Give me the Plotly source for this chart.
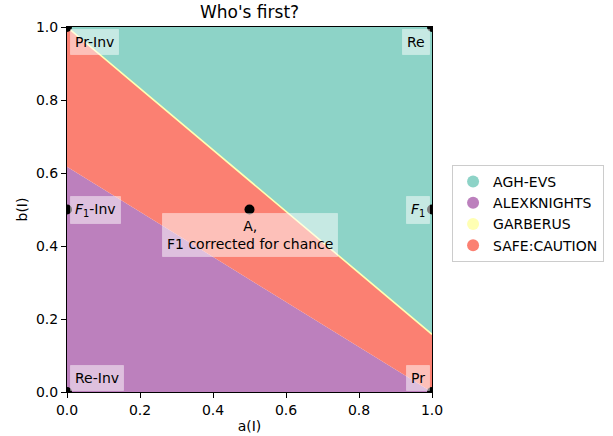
import plotly.graph_objects as go

# Data
a_edges = [0.0, 1.0]
alexknights_top = [0.617, 0.0]     # boundary purple / red
garberus_line = [1.0, 0.158]       # boundary red / green (thin yellow band)
point_x = [0.0, 1.0, 0.0, 0.5, 1.0, 0.0, 1.0]
point_y = [1.0, 1.0, 0.5, 0.5, 0.5, 0.0, 0.0]
labels = ["Pr-Inv", "Re", "<i>F</i><sub>1</sub>-Inv", "A,<br>F1 corrected for chance",
          "<i>F</i><sub>1</sub>", "Re-Inv", "Pr"]
teams = ["AGH-EVS", "ALEXKNIGHTS", "GARBERUS", "SAFE:CAUTION"]
colors = {"AGH-EVS": "#8dd3c7", "ALEXKNIGHTS": "#bc80bd",
          "GARBERUS": "#ffffb3", "SAFE:CAUTION": "#fb8072"}

FONT = "DejaVu Sans"
FS = 14
fig = go.Figure()

# purple region
fig.add_trace(go.Scatter(
    x=[a_edges[0], a_edges[0], a_edges[1]], y=[0, alexknights_top[0], alexknights_top[1]],
    fill="toself", mode="none", fillcolor=colors["ALEXKNIGHTS"], showlegend=False, hoverinfo="skip"))
# red region
fig.add_trace(go.Scatter(
    x=[a_edges[0], a_edges[1], a_edges[1], a_edges[0]],
    y=[alexknights_top[0], alexknights_top[1], garberus_line[1], garberus_line[0]],
    fill="toself", mode="none", fillcolor=colors["SAFE:CAUTION"], showlegend=False, hoverinfo="skip"))
# green region
fig.add_trace(go.Scatter(
    x=[a_edges[0], a_edges[1], a_edges[1]], y=[garberus_line[0], garberus_line[1], 1.0],
    fill="toself", mode="none", fillcolor=colors["AGH-EVS"], showlegend=False, hoverinfo="skip"))
# yellow thin band
fig.add_trace(go.Scatter(
    x=a_edges, y=garberus_line, mode="lines",
    line=dict(color=colors["GARBERUS"], width=1.6), showlegend=False, hoverinfo="skip"))

# points
fig.add_trace(go.Scatter(
    x=point_x, y=point_y, mode="markers",
    marker=dict(color="black", size=10), showlegend=False, cliponaxis=True))

# legend entries
for t in teams:
    fig.add_trace(go.Scatter(
        x=[None], y=[None], mode="markers", name=t,
        marker=dict(color=colors[t], size=14)))

# annotations
anchors = [
    ("left", "top", 3, -2),
    ("right", "top", -2, -2),
    ("left", "middle", 3, 0),
    ("center", "top", 0, -3),
    ("right", "middle", -2, 0),
    ("left", "bottom", 3, 1),
    ("right", "bottom", -2, 1),
]
for x, y, lab, (xa, ya, xs, ys) in zip(point_x, point_y, labels, anchors):
    fig.add_annotation(
        x=x, y=y, text=lab, showarrow=False, xanchor=xa, yanchor=ya,
        xshift=xs, yshift=ys, align="center",
        font=dict(family=FONT, size=FS, color="black"),
        bgcolor="rgba(255,255,255,0.5)", borderpad=4,
        bordercolor="rgba(255,255,255,0.3)", borderwidth=1)

axis_common = dict(
    range=[0, 1], tickmode="array", tickvals=[0, 0.2, 0.4, 0.6, 0.8, 1.0],
    ticktext=["0.0", "0.2", "0.4", "0.6", "0.8", "1.0"],
    ticks="outside", ticklen=5, tickwidth=1, tickcolor="black",
    showline=True, linecolor="black", linewidth=1, mirror=True,
    showgrid=False, zeroline=False, automargin=False,
    tickfont=dict(family=FONT, size=FS, color="black"),
)
fig.update_xaxes(title=dict(text="a(I)", font=dict(family=FONT, size=FS, color="black"), standoff=4),
                 **axis_common)
fig.update_yaxes(title=dict(text="b(I)", font=dict(family=FONT, size=FS, color="black"), standoff=5),
                 **axis_common)

fig.update_layout(
    width=613, height=436,
    margin=dict(l=67, r=181, t=27, b=44, autoexpand=False),
    plot_bgcolor="white", paper_bgcolor="white",
    title=dict(text="Who's first?", x=(67 + 432) / 2 / 613, xanchor="center",
               y=1 - 12 / 436, yanchor="middle", automargin=False,
               font=dict(family=FONT, size=17, color="black")),
    legend=dict(x=1.055, y=0.622, xanchor="left", yanchor="top",
                bordercolor="#cccccc", borderwidth=1, bgcolor="white",
                font=dict(family=FONT, size=FS, color="black"),
                itemsizing="constant", tracegroupgap=0),
    showlegend=True,
)

fig.write_html("out.html", config={"displayModeBar": False},
               post_script="document.body.style.margin='0';")
